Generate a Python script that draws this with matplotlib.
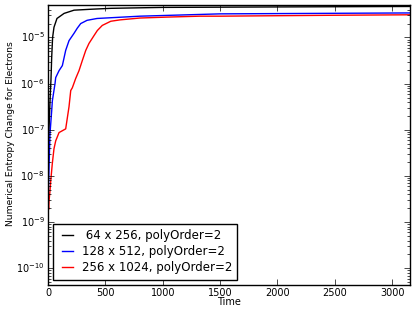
import numpy as np
import matplotlib
matplotlib.use("Agg")
import matplotlib.pyplot as plt

plt.style.use("classic")
plt.rcParams["font.family"] = ["DejaVu Sans"]
plt.rcParams["mathtext.fontset"] = "dejavusans"

# Datos (tiempo, log10 del cambio de entropia)
t_64 = [0, 3, 10, 17, 26, 32, 40, 52, 78, 140, 227, 375, 549, 1000, 2000, 3150]
log_64 = [-8.0, -7.6, -6.9, -6.4, -5.9, -5.43, -5.0, -4.78, -4.59, -4.48,
          -4.41, -4.39, -4.37, -4.35, -4.34, -4.33]

t_128 = [0, 5, 11, 17, 32, 38, 61, 67, 96, 125, 154, 183, 227, 255, 285,
         340, 427, 575, 802, 1500, 3150]
log_128 = [-8.9, -8.2, -7.61, -7.09, -6.59, -6.37, -6.0, -5.87, -5.72, -5.61,
           -5.28, -5.07, -4.91, -4.80, -4.70, -4.63, -4.59, -4.57, -4.54,
           -4.49, -4.47]

t_256 = [0, 6, 9, 17, 24, 37, 52, 67, 96, 125, 154, 183, 198, 212, 241, 270,
         299, 329, 357, 401, 430, 473, 547, 628, 802, 1037, 1325, 1500, 2000,
         2500, 3150]
log_256 = [-8.6, -8.72, -8.54, -8.33, -8.1, -7.74, -7.41, -7.24, -7.06, -7.02,
           -6.98, -6.5, -6.15, -6.09, -5.89, -5.72, -5.5, -5.28, -5.13, -4.96,
           -4.85, -4.74, -4.65, -4.62, -4.58, -4.56, -4.54, -4.54, -4.53,
           -4.52, -4.51]

etiquetas = [" 64 x 256, polyOrder=2", "128 x 512, polyOrder=2",
             "256 x 1024, polyOrder=2"]

fig = plt.figure(figsize=(4.15, 3.18), dpi=100, facecolor="white")
ax = fig.add_axes([0.1157, 0.1038, 0.8723, 0.8802])

ax.semilogy(t_64, 10 ** np.array(log_64), color="k", lw=1, label=etiquetas[0])
ax.semilogy(t_128, 10 ** np.array(log_128), color="b", lw=1, label=etiquetas[1])
ax.semilogy(t_256, 10 ** np.array(log_256), color="r", lw=1, label=etiquetas[2])

ax.set_xlim(0, 3155)
ax.set_ylim(10 ** -10.36, 10 ** -4.30)
ax.set_xticks([0, 500, 1000, 1500, 2000, 2500, 3000])
ax.tick_params(labelsize=7, pad=2.5)
ax.set_xlabel("Time", fontsize=7)
ax.set_ylabel("Numerical Entropy Change for Electrons", fontsize=6.6)
ax.xaxis.set_label_coords(0.5, -0.062)
ax.yaxis.set_label_coords(-0.105, 0.54)
ax.xaxis.label.set_va("center")
ax.yaxis.label.set_va("center")

ax.legend(loc="lower left", fontsize=8.5, frameon=True, fancybox=False,
          handlelength=1.5, handletextpad=0.45, labelspacing=0.25,
          borderpad=0.45, borderaxespad=0.45)

plt.savefig("out.png", dpi=100, facecolor="white")
